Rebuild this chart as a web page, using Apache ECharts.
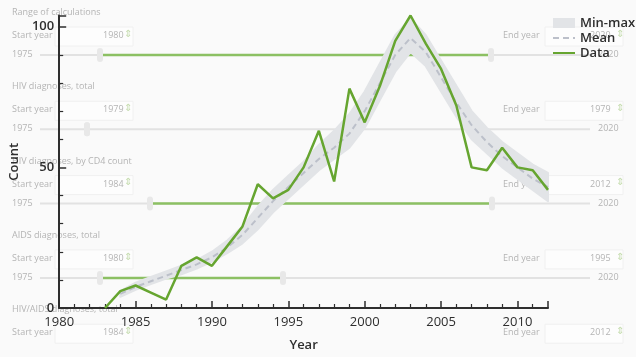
<!DOCTYPE html>
<html>
<head>
<meta charset="utf-8">
<script src="https://cdn.jsdelivr.net/npm/echarts@6/dist/echarts.min.js"></script>
<style>
html,body{margin:0;padding:0;background:#fafafa;}
#c{width:636px;height:357px;}
</style>
</head>
<body>
<div id="c"></div>
<script>
// ---- chart data ----
var years      = [1983,1984,1985,1986,1987,1988,1989,1990,1991,1992,1993,1994,1995,1996,1997,1998,1999,2000,2001,2002,2003,2004,2005,2006,2007,2008,2009,2010,2011,2012];
var dataValues = [0,6,8,5.5,3,15,18,15,22,29,44,39,42,50,63,45,78,66,79,95,104,94,85,72,50,49,57,50,49,42];

var bandYears  = [1984,1985,1986,1987,1988,1989,1990,1991,1992,1993,1994,1995,1996,1997,1998,1999,2000,2001,2002,2003,2004,2005,2006,2007,2008,2009,2010,2011,2012];
var meanValues = [5,7.5,9.5,11.5,13.5,15.5,18,21.5,26,32,38,43,48,53,57,62,70,80,90,96,91,82,73,65,59,54,50,46,43];
var minValues  = [4,6.5,8.5,10.5,12,14,16.5,19.5,23,28,34,39,44,49,53,57,64,74,84,91,86,77,68,60,55,50,46,42,38];
var maxValues  = [6,9,11,13,15,17,20,24,29,36,42,47,52,58,63,69,77,87,97,103,97,88,79,70,64,59,55,51,48];

// ---- background UI (faded panel form behind the chart) ----
var panelTitles = ['Range of calculations','HIV diagnoses, total','HIV diagnoses, by CD4 count','AIDS diagnoses, total','HIV/AIDS diagnoses, total'];
var panelStart  = ['1980','1979','1984','1980','1984'];
var panelEnd    = ['2020','1979','2012','1995','2012'];
var panelGreen  = [[100,491],null,[150,492],[100,283],null];
var panelThumbs = [[100,491],[87,87],[150,492],[100,283],null];

function buildBackground(){
  var els = [];
  var faint = '#b4b4b4';
  var font = '9px "Open Sans", sans-serif';
  for (var i = 0; i < panelTitles.length; i++) {
    var y0 = 14 + i * 74.3;
    els.push({type:'text', left:12, top:y0-6, z:-5, style:{text:panelTitles[i], fill:faint, font:font}});
    els.push({type:'text', left:12, top:y0+17, z:-5, style:{text:'Start year', fill:faint, font:font}});
    els.push({type:'rect', z:-6, shape:{x:55,y:y0+13,width:78,height:19}, style:{fill:'#fdfdfd', stroke:'#f0f0f0'}});
    els.push({type:'text', left:103, top:y0+17, z:-5, style:{text:panelStart[i], fill:faint, font:font}});
    els.push({type:'text', left:124, top:y0+15, z:-5, style:{text:'\u21D5', fill:'#c5dcae', font:'10px sans-serif'}});
    els.push({type:'text', left:503, top:y0+17, z:-5, style:{text:'End year', fill:faint, font:font}});
    els.push({type:'rect', z:-6, shape:{x:545,y:y0+13,width:78,height:19}, style:{fill:'#fdfdfd', stroke:'#f0f0f0'}});
    els.push({type:'text', left:590, top:y0+17, z:-5, style:{text:panelEnd[i], fill:faint, font:font}});
    els.push({type:'text', left:616, top:y0+15, z:-5, style:{text:'\u21D5', fill:'#c5dcae', font:'10px sans-serif'}});
    var ys = y0 + 41;
    if (ys < 300) {
      els.push({type:'text', left:12, top:ys-5, z:-5, style:{text:'1975', fill:faint, font:font}});
      els.push({type:'text', left:598, top:ys-5, z:-5, style:{text:'2020', fill:faint, font:font}});
      els.push({type:'line', z:-6, shape:{x1:40,y1:ys,x2:590,y2:ys}, style:{stroke:'#e2e2e2', lineWidth:2}});
      if (panelGreen[i]) {
        els.push({type:'line', z:-5, shape:{x1:panelGreen[i][0],y1:ys,x2:panelGreen[i][1],y2:ys}, style:{stroke:'#8cc063', lineWidth:2.5}});
      }
      if (panelThumbs[i]) {
        for (var k = 0; k < 2; k++) {
          els.push({type:'rect', z:-5, shape:{x:panelThumbs[i][k]-3,y:ys-7,width:6,height:14,r:3}, style:{fill:'#e8e8e8'}});
        }
      }
    }
  }
  return els;
}

// ---- series data built from arrays ----
var dataSeries = years.map(function(y,i){ return [y, dataValues[i]]; });
var meanSeries = bandYears.map(function(y,i){ return [y, meanValues[i]]; });
var bandSeries = bandYears.map(function(y,i){ return [y, minValues[i], maxValues[i]]; });

var txt = '#2e2e2e';
var fontFam = '"Open Sans", sans-serif';
var bandColor = '#e2e4e7';

function renderBand(params, api){
  if (params.dataIndex !== 0) return null;
  var pts = [];
  for (var i = 0; i < bandYears.length; i++) pts.push(api.coord([bandYears[i], maxValues[i]]));
  for (var j = bandYears.length - 1; j >= 0; j--) pts.push(api.coord([bandYears[j], minValues[j]]));
  return {type:'polygon', shape:{points:pts}, style:{fill:bandColor, stroke:bandColor, lineWidth:2, lineJoin:'round'}};
}

var chart = echarts.init(document.getElementById('c'), null, {renderer:'canvas'});
chart.setOption({
  animation:false,
  backgroundColor:'#fafafa',
  graphic: buildBackground(),
  grid:{left:46, right:88, top:15.5, bottom:42, containLabel:false},
  legend:{
    orient:'vertical', left:547, top:11,
    itemWidth:22, itemHeight:10, itemGap:1,
    textStyle:{fontSize:13, fontWeight:600, color:txt, fontFamily:fontFam, lineHeight:14},
    data:[
      {name:'Min-max', icon:'rect', itemStyle:{color:bandColor}},
      {name:'Mean', itemStyle:{opacity:0}},
      {name:'Data', itemStyle:{opacity:0}}
    ]
  },
  xAxis:{
    type:'value', min:1980, max:2012, interval:5,
    name:'Year', nameLocation:'middle', nameGap:31,
    nameTextStyle:{fontSize:13, fontWeight:600, color:txt, fontFamily:fontFam},
    axisLine:{show:true, lineStyle:{color:txt, width:2}},
    axisTick:{show:true, inside:true, length:7, lineStyle:{color:txt, width:1.5}},
    minorTick:{show:true, splitNumber:5, length:4, lineStyle:{color:txt, width:1.2}},
    axisLabel:{fontSize:13, color:txt, fontFamily:fontFam, margin:8, showMaxLabel:false,
               formatter:function(v){return String(v);}},
    splitLine:{show:false}, minorSplitLine:{show:false}
  },
  yAxis:{
    type:'value', min:0, max:104, interval:50,
    name:'Count', nameLocation:'middle', nameGap:30,
    nameTextStyle:{fontSize:13, fontWeight:600, color:txt, fontFamily:fontFam},
    axisLine:{show:true, lineStyle:{color:txt, width:2}},
    axisTick:{show:true, inside:true, length:7, lineStyle:{color:txt, width:1.5}},
    minorTick:{show:true, splitNumber:5, length:4, lineStyle:{color:txt, width:1.2}},
    axisLabel:{fontSize:13, fontWeight:600, color:txt, fontFamily:fontFam, margin:5},
    splitLine:{show:false}, minorSplitLine:{show:false}
  },
  series:[
    {name:'Min-max', type:'custom', data:bandSeries, renderItem:renderBand, silent:true,
     encode:{x:0, y:[1,2]}, itemStyle:{color:bandColor}, z:1},
    {name:'Mean', type:'line', data:meanSeries, symbol:'none', silent:true,
     itemStyle:{color:'#bcc0ca'}, lineStyle:{color:'#bcc0ca', width:2, type:[6,4]}, z:2},
    {name:'Data', type:'line', data:dataSeries, symbol:'none',
     itemStyle:{color:'#66a530'}, lineStyle:{color:'#66a530', width:2.5}, z:3}
  ]
});
</script>
</body>
</html>
